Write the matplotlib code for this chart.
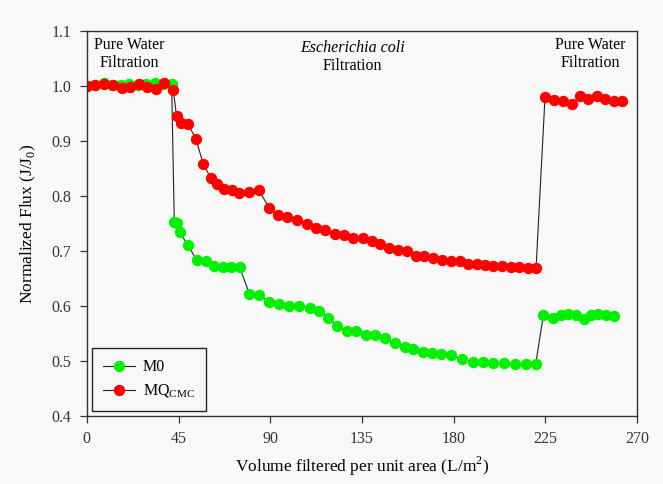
import numpy as np
import matplotlib
matplotlib.use("Agg")
import matplotlib.pyplot as plt

plt.rcParams['font.family'] = ['Liberation Serif', 'DejaVu Serif']
plt.rcParams['mathtext.fontset'] = 'custom'
plt.rcParams['mathtext.rm'] = 'Liberation Serif'

# M0 membrane: pure water -> E. coli -> pure water
m0_x = [0, 4.2, 8.2, 12.4, 16.6, 20.8, 25.0, 29.2, 33.4, 37.6, 41.6,
        42.9, 44.2, 45.5, 49.7, 53.8, 58.3, 62.5, 66.6, 70.7, 75.1,
        79.7, 84.6, 89.5, 94.4, 99.3, 104.2, 109.5, 114.0, 118.5, 122.9,
        127.5, 132.1, 136.8, 141.4, 146.3, 151.2, 156.1, 160.2, 164.8, 169.2,
        173.8, 178.7, 183.9, 189.6, 194.5, 199.5, 204.9, 210.1, 215.3, 220.2,
        224.0, 228.6, 232.7, 236.3, 240.1, 243.7, 247.3, 251.0, 254.8, 258.4]
m0_y = [1.000, 1.002, 1.006, 1.002, 1.001, 1.004, 1.002, 1.003, 1.005, 1.003, 1.003,
        0.752, 0.750, 0.734, 0.710, 0.684, 0.682, 0.673, 0.670, 0.671, 0.670,
        0.622, 0.620, 0.607, 0.603, 0.600, 0.600, 0.597, 0.591, 0.578, 0.564,
        0.555, 0.554, 0.548, 0.548, 0.542, 0.532, 0.526, 0.522, 0.517, 0.514,
        0.512, 0.510, 0.504, 0.498, 0.498, 0.497, 0.496, 0.495, 0.495, 0.494,
        0.583, 0.578, 0.583, 0.586, 0.583, 0.577, 0.583, 0.586, 0.583, 0.581]

# MQ-CMC membrane
mq_x = [0, 3.9, 8.3, 12.9, 17.0, 21.0, 25.7, 29.6, 33.9, 37.9, 42.4,
        44.0, 46.2, 49.7, 53.5, 57.1, 60.9, 64.0, 67.4, 71.0, 74.6,
        79.5, 84.4, 89.4, 93.6, 98.3, 103.2, 107.8, 112.4, 116.8, 121.7,
        126.2, 130.7, 135.3, 139.8, 143.9, 148.4, 152.8, 156.9, 161.5, 165.6,
        170.0, 174.1, 178.7, 183.1, 187.2, 191.3, 195.4, 199.5, 203.6, 208.2,
        212.2, 216.4, 220.4,
        224.8, 229.2, 233.5, 237.9, 242.0, 246.1, 250.2, 254.3, 258.4, 262.5]
mq_y = [1.000, 1.001, 1.003, 1.001, 0.996, 0.999, 1.004, 0.999, 0.994, 1.006, 0.992,
        0.946, 0.933, 0.930, 0.904, 0.858, 0.832, 0.822, 0.813, 0.811, 0.806,
        0.808, 0.810, 0.779, 0.765, 0.762, 0.756, 0.749, 0.742, 0.738, 0.730,
        0.729, 0.724, 0.723, 0.719, 0.713, 0.705, 0.702, 0.700, 0.691, 0.691,
        0.688, 0.684, 0.682, 0.681, 0.676, 0.676, 0.675, 0.672, 0.672, 0.671,
        0.670, 0.669, 0.669,
        0.980, 0.975, 0.973, 0.968, 0.981, 0.976, 0.981, 0.976, 0.972, 0.972]

x_ticks = [0, 45, 90, 135, 180, 225, 270]
y_ticks = [0.4, 0.5, 0.6, 0.7, 0.8, 0.9, 1.0, 1.1]

bg = '#f8f8f8'
fig = plt.figure(figsize=(6.63, 4.84), dpi=100, facecolor=bg)
ax = fig.add_axes([0.131, 0.1405, 0.83, 0.7955], facecolor=bg)

ax.plot(m0_x, m0_y, '-o', color='#222222', lw=0.8, ms=7.2,
        mfc='#00ee00', mec='#00ee00', label='M0')
ax.plot(mq_x, mq_y, '-o', color='#222222', lw=0.8, ms=7.2,
        mfc='#ff0000', mec='#ff0000', label='MQ$_\\mathregular{CMC}$')

ax.set_xlim(0, 270)
ax.set_ylim(0.4, 1.1)
ax.set_xticks(x_ticks)
ax.set_yticks(y_ticks)
ax.set_yticklabels([f'{v:.1f}' for v in y_ticks])
ax.tick_params(direction='out', length=5, width=0.9, labelsize=11.5,
               colors='#333333', pad=6)
for s in ax.spines.values():
    s.set_linewidth(1.0)
    s.set_color('#333333')

ax.set_xlabel('Volume filtered per unit area (L/m$^\\mathregular{2}$)', fontsize=12.5, labelpad=5)
ax.set_ylabel('Normalized Flux (J/J$_\\mathregular{0}$)', fontsize=12.5, labelpad=10)

# phase annotations
ax.text(21, 1.058, 'Pure Water\nFiltration', ha='center', va='center',
        fontsize=11.5, linespacing=1.1)
ax.text(130.5, 1.069, 'Escherichia coli', ha='center', va='center',
        fontsize=11.5, style='italic')
ax.text(130.5, 1.036, 'Filtration', ha='center', va='center', fontsize=11.5)
ax.text(247, 1.058, 'Pure Water\nFiltration', ha='center', va='center',
        fontsize=11.5, linespacing=1.1)

leg = ax.legend(loc='lower left', fontsize=11.5, frameon=True, fancybox=False,
                edgecolor='#222222', facecolor=bg, framealpha=1,
                borderaxespad=0.3, handlelength=2.0, handletextpad=0.5,
                borderpad=0.7, labelspacing=0.45)
leg.get_frame().set_linewidth(1.0)

fig.savefig('out.png', dpi=100, facecolor=bg)
